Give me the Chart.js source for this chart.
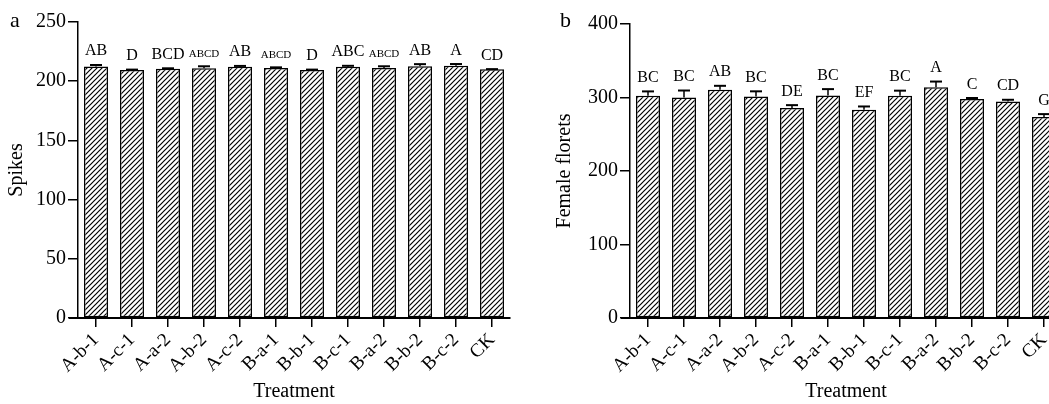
<!DOCTYPE html>
<html>
<head>
<meta charset="utf-8">
<script src="https://cdn.jsdelivr.net/npm/chart.js@4.4.1/dist/chart.umd.min.js"></script>
<style>
  html, body { margin: 0; padding: 0; background: #fff; width: 1049px; height: 404px; overflow: hidden; position: relative; }
  canvas { position: absolute; top: 0; }
  #chartA { left: 0; }
  #chartB { left: 540px; }
</style>
</head>
<body>
<canvas id="chartA" width="525" height="404"></canvas>
<canvas id="chartB" width="540" height="404"></canvas>
<script>
const treatments = ['A-b-1', 'A-c-1', 'A-a-2', 'A-b-2', 'A-c-2', 'B-a-1', 'B-b-1', 'B-c-1', 'B-a-2', 'B-b-2', 'B-c-2', 'CK'];

// panel a: spikes
const spikes = [212.5, 209.5, 210.5, 211.0, 212.3, 211.1, 209.5, 212.3, 211.1, 212.6, 213.0, 210.0];
const spikesErr = [1.2, 0.3, 0.4, 1.6, 0.6, 0.6, 0.3, 0.7, 1.5, 1.8, 1.5, 0.2];
const spikesLetters = ['AB', 'D', 'BCD', 'ABCD', 'AB', 'ABCD', 'D', 'ABC', 'ABCD', 'AB', 'A', 'CD'];

// panel b: female florets
const florets = [302.3, 300.0, 310.4, 301.4, 285.6, 302.7, 283.3, 302.3, 314.1, 297.8, 294.6, 273.4];
const floretsErr = [6, 9.5, 5.5, 7, 4, 8.7, 4.5, 7, 7.6, 1.5, 2.3, 4];
const floretsLetters = ['BC', 'BC', 'AB', 'BC', 'DE', 'BC', 'EF', 'BC', 'A', 'C', 'CD', 'G'];

const FONT = '"Liberation Serif", "Times New Roman", serif';
Chart.defaults.font.family = FONT;
Chart.defaults.color = '#000';

function hatch(ctx, step) {
  const c = document.createElement('canvas');
  c.width = c.height = step;
  const g = c.getContext('2d');
  g.fillStyle = '#fff';
  g.fillRect(0, 0, step, step);
  g.strokeStyle = '#000';
  g.lineWidth = 1.2;
  g.beginPath();
  g.moveTo(-1, step + 1); g.lineTo(step + 1, -1);
  g.moveTo(-1, 1); g.lineTo(1, -1);
  g.moveTo(step - 1, step + 1); g.lineTo(step + 1, step - 1);
  g.stroke();
  return ctx.createPattern(c, 'repeat');
}

// error bars (upper only), significance letters and the panel letter
function overlay(errors, letters, panel, panelX) {
  return {
    id: 'overlay',
    afterDatasetsDraw(chart) {
      const ctx = chart.ctx;
      const y = chart.scales.y;
      const vals = chart.data.datasets[0].data;
      ctx.save();
      ctx.strokeStyle = '#000';
      ctx.fillStyle = '#000';
      ctx.textAlign = 'center';
      ctx.textBaseline = 'alphabetic';
      chart.getDatasetMeta(0).data.forEach((bar, i) => {
        const top = y.getPixelForValue(vals[i] + errors[i]);
        ctx.lineWidth = 1.5;
        ctx.beginPath();
        ctx.moveTo(bar.x, bar.y);
        ctx.lineTo(bar.x, top);
        ctx.stroke();
        ctx.lineWidth = 2;
        ctx.beginPath();
        ctx.moveTo(bar.x - 6, top);
        ctx.lineTo(bar.x + 6, top);
        ctx.stroke();
        const t = letters[i];
        ctx.font = (t.length > 3 ? 11 : 16) + 'px ' + FONT;
        ctx.fillText(t, bar.x, top - 9.5);
      });
      // x axis runs a little past the y axis on the left
      const area = chart.chartArea;
      ctx.lineWidth = 2;
      ctx.beginPath();
      ctx.moveTo(area.left - 9, area.bottom);
      ctx.lineTo(area.left, area.bottom);
      ctx.stroke();
      ctx.textAlign = 'left';
      ctx.font = '22px ' + FONT;
      ctx.fillText(panel, panelX, 27);
      ctx.restore();
    }
  };
}

function makeChart(id, values, errors, letters, opts) {
  const canvas = document.getElementById(id);
  const ctx = canvas.getContext('2d');
  return new Chart(ctx, {
    type: 'bar',
    data: {
      labels: treatments,
      datasets: [{
        data: values,
        backgroundColor: hatch(ctx, 5),
        borderColor: '#000',
        borderWidth: 1.5,
        borderSkipped: false,
        categoryPercentage: 1,
        barPercentage: 0.667
      }]
    },
    options: {
      responsive: false,
      animation: false,
      layout: { padding: { top: opts.top, right: opts.right, left: 0, bottom: 0 } },
      plugins: { legend: { display: false }, tooltip: { enabled: false } },
      scales: {
        x: {
          grid: { display: true, drawOnChartArea: false, offset: false, tickLength: 9, color: '#000', lineWidth: 1.5 },
          border: { display: true, color: '#000', width: 2 },
          ticks: { font: { size: 19 }, color: '#000', autoSkip: false, minRotation: 45, maxRotation: 45, padding: 2 },
          title: { display: true, text: 'Treatment', font: { size: 20 }, color: '#000', padding: { top: 0, bottom: 0 } },
          afterFit(scale) { scale.height = 86; }
        },
        y: {
          min: 0,
          max: opts.max,
          grid: { display: true, drawOnChartArea: false, tickLength: 10, color: '#000', lineWidth: 1.5 },
          border: { display: true, color: '#000', width: 1.5 },
          ticks: { stepSize: opts.step, font: { size: 20 }, color: '#000', padding: 2 },
          title: { display: true, text: opts.yTitle, font: { size: 20 }, color: '#000', padding: { top: opts.titlePad, bottom: 0 } },
          afterFit(scale) { scale.width = opts.yWidth; }
        }
      }
    },
    plugins: [overlay(errors, letters, opts.panel, opts.panelX)]
  });
}

makeChart('chartA', spikes, spikesErr, spikesLetters, {
  top: 22, right: 15, max: 250, step: 50, yTitle: 'Spikes', titlePad: 5, yWidth: 78, panel: 'a', panelX: 10
});

makeChart('chartB', florets, floretsErr, floretsLetters, {
  top: 24, right: 18, max: 400, step: 100, yTitle: 'Female florets', titlePad: 13, yWidth: 90, panel: 'b', panelX: 20
});
</script>
</body>
</html>
